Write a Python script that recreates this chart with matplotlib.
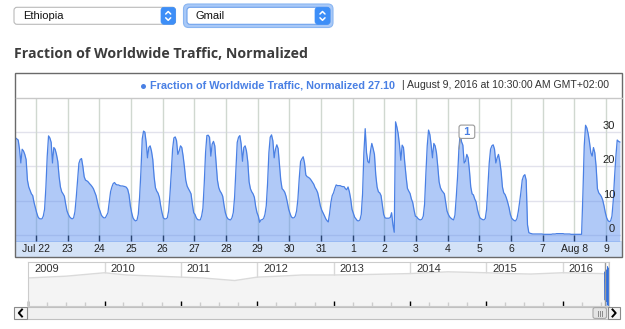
import numpy as np
import pandas as pd
import matplotlib
matplotlib.use('Agg')
import matplotlib.pyplot as plt
import matplotlib.dates as mdates
from matplotlib.patches import Rectangle, FancyBboxPatch

plt.rcParams['font.family'] = ['Liberation Sans', 'DejaVu Sans']

country = 'Ethiopia'
product = 'Gmail'
series_name = 'Fraction of Worldwide Traffic, Normalized'

# hourly samples, GMT+02:00, first sample Jul 21 08:30
jul21 = [28.3, 28.0, 27.7, 25.0, 21.0, 25.0, 24.5, 23.5, 22.0, 16.0, 14.0, 13.0, 12.0, 11.5, 9.5, 8.0]
jul22 = [6.5, 5.3, 4.8, 4.7, 4.7, 5.5, 7.5, 14.0, 23.0, 28.9, 28.3, 27.0, 21.0, 25.5, 25.0, 23.5, 21.5, 17.0, 14.0, 12.6, 12.0, 11.3, 9.0, 7.0]
jul23 = [6.0, 5.3, 4.9, 4.7, 5.0, 6.8, 11.0, 16.0, 20.9, 22.0, 22.3, 20.0, 17.0, 16.0, 15.8, 15.5, 15.0, 14.6, 14.1, 13.5, 12.5, 11.5, 9.7, 8.0]
jul24 = [7.0, 5.8, 5.3, 5.0, 5.0, 5.7, 6.5, 9.5, 12.6, 14.0, 15.0, 15.3, 14.8, 14.6, 14.6, 14.4, 14.3, 14.3, 14.2, 14.1, 13.9, 13.3, 11.7, 8.5]
jul25 = [6.5, 5.0, 4.4, 4.1, 4.3, 6.0, 11.0, 18.4, 28.0, 30.3, 30.0, 27.0, 22.5, 25.5, 26.0, 24.5, 22.0, 17.0, 13.8, 12.8, 12.2, 11.0, 8.5, 6.5]
jul26 = [5.0, 4.7, 4.7, 5.0, 7.0, 11.7, 18.0, 25.0, 28.3, 28.6, 27.5, 23.5, 24.5, 26.0, 25.5, 23.0, 19.8, 16.0, 14.3, 13.5, 12.8, 12.0, 9.0, 6.5]
jul27 = [6.0, 5.0, 4.5, 4.4, 4.4, 5.5, 7.8, 15.0, 24.0, 29.0, 29.1, 28.5, 23.0, 26.5, 27.3, 26.0, 21.0, 16.0, 13.8, 12.8, 12.2, 11.3, 8.7, 6.5]
jul28 = [5.3, 4.7, 4.5, 4.4, 5.0, 6.5, 11.0, 19.0, 27.0, 28.5, 29.0, 26.5, 21.5, 25.5, 26.0, 24.5, 21.4, 15.5, 13.5, 12.6, 12.0, 11.0, 8.3, 6.5]
jul29 = [5.5, 3.7, 4.4, 4.5, 4.8, 6.0, 8.5, 15.0, 24.0, 28.5, 29.2, 27.5, 22.5, 25.0, 26.3, 25.2, 20.5, 16.0, 13.5, 13.1, 12.5, 11.3, 9.5, 7.5]
jul30 = [6.3, 5.3, 5.0, 5.0, 5.5, 7.0, 10.5, 16.5, 21.4, 22.2, 22.8, 21.0, 17.5, 17.0, 16.8, 16.5, 16.0, 15.4, 14.8, 13.8, 13.2, 12.3, 10.5, 8.5]
jul31 = [7.3, 6.5, 5.7, 4.8, 4.2, 3.8, 6.3, 9.5, 11.5, 12.3, 13.6, 14.6, 14.4, 14.4, 14.4, 14.2, 14.1, 14.1, 13.5, 13.2, 14.0, 12.6, 10.5, 7.5]
aug1 = [6.3, 5.2, 4.7, 4.2, 4.1, 4.4, 6.0, 12.0, 24.0, 31.0, 24.0, 21.4, 21.0, 24.5, 26.7, 25.2, 23.5, 17.5, 14.0, 12.6, 12.3, 11.5, 8.7, 6.0]
aug2 = [5.0, 4.9, 4.9, 4.9, 5.1, 6.5, 3.0, 0.8, 33.0, 31.5, 29.5, 26.2, 21.8, 26.2, 25.5, 21.0, 17.0, 13.6, 12.8, 12.1, 10.5, 9.5, 7.3, 5.5]
aug3 = [5.3, 4.8, 4.5, 4.4, 4.6, 5.5, 9.0, 18.0, 26.0, 30.6, 29.3, 26.2, 22.5, 26.7, 26.0, 24.0, 20.0, 15.5, 13.8, 13.0, 12.5, 12.0, 9.5, 7.0]
aug4 = [6.0, 5.3, 4.9, 4.6, 4.4, 5.8, 11.0, 17.0, 25.0, 29.6, 27.2, 26.2, 21.0, 21.5, 23.5, 22.5, 18.8, 14.0, 12.0, 11.7, 10.5, 9.7, 7.5, 6.0]
aug5 = [5.0, 4.7, 4.5, 4.4, 4.8, 7.5, 14.0, 21.0, 25.0, 26.0, 26.3, 25.0, 21.0, 22.5, 23.5, 21.5, 18.5, 14.0, 12.3, 11.8, 10.8, 9.5, 8.0, 6.0]
aug6 = [4.9, 4.5, 4.2, 4.1, 4.8, 6.8, 9.5, 12.5, 16.0, 17.2, 17.6, 16.0, 3.0, 0.7, 0.5, 0.4, 0.3, 0.3, 0.3, 0.3, 0.3, 0.3, 0.3, 0.3]
aug7 = [0.2, 0.2, 0.2, 0.2, 0.2, 0.2, 0.2, 0.3, 0.3, 0.3, 0.4, 0.4, 0.4, 0.4, 0.4, 0.4, 0.3, 0.3, 0.3, 0.3, 0.3, 0.2, 0.2, 0.2]
aug8 = [0.2, 0.2, 0.2, 0.2, 0.2, 0.2, 12.0, 26.0, 32.0, 31.2, 29.5, 27.0, 24.0, 23.0, 25.5, 24.0, 20.0, 13.5, 12.3, 11.8, 11.2, 10.2, 8.5, 6.5]
aug9 = [5.0, 4.2, 3.9, 4.1, 5.5, 10.0, 17.0, 23.0, 27.7, 27.3, 27.1]

traffic = (jul21 + jul22 + jul23 + jul24 + jul25 + jul26 + jul27 + jul28 + jul29
           + jul30 + jul31 + aug1 + aug2 + aug3 + aug4 + aug5 + aug6 + aug7 + aug8 + aug9)
times = pd.date_range('2016-07-21 08:30', periods=len(traffic), freq='h')

day_ticks = pd.date_range('2016-07-22', '2016-08-09', freq='D')
day_labels = ['Jul 22', '23', '24', '25', '26', '27', '28', '29', '30', '31',
              '1', '2', '3', '4', '5', '6', '7', 'Aug 8', '9']
y_ticks = [0, 10, 20, 30]

flag_time = pd.Timestamp('2016-08-04 08:30')
flag_text = '1'

# long range overview (2009 - 2016)
years = list(range(2009, 2017))
overview_dates = pd.to_datetime(['2009-01-01', '2009-07-01', '2010-01-01', '2010-04-15', '2010-08-01',
                                 '2011-01-01', '2011-04-15', '2011-09-15', '2012-01-01', '2012-04-15',
                                 '2012-08-01', '2013-01-01', '2013-07-01', '2014-01-01', '2014-07-01',
                                 '2015-01-01', '2015-04-15', '2015-08-01', '2016-01-01', '2016-07-01',
                                 '2016-07-21'])
overview_vals = [23.5, 25.0, 27.9, 26.0, 25.3, 24.2, 23.5, 21.3, 24.2, 25.0, 26.0, 26.0, 26.5,
                 27.2, 28.7, 27.9, 27.2, 26.8, 27.9, 27.2, 27.0]

W, H = 625, 329


def fig_box(x0, y0, x1, y1):
    return [x0 / W, 1 - y1 / H, (x1 - x0) / W, (y1 - y0) / H]


fig = plt.figure(figsize=(W / 100, H / 100), dpi=100)
fig.patch.set_facecolor('white')

# layer under the charts (axis band)
under = fig.add_axes([0, 0, 1, 1])
under.set_xlim(0, W)
under.set_ylim(H, 0)
under.axis('off')
under.set_zorder(-1)
under.add_patch(Rectangle((15.5, 240.5), 606, 16, fc='#d3e2f7', ec='none'))

# main chart
tx = mdates.date2num(times.to_pydatetime())
ax = fig.add_axes(fig_box(16, 97.7, 621, 240.5))
ax.set_facecolor('white')
for v in y_ticks:
    ax.axhline(v, color='#e2e2ec', lw=1, zorder=0.5)
for d in mdates.date2num(day_ticks.to_pydatetime()):
    ax.axvline(d, color='#d0d8d0', lw=1, zorder=0.5)
ax.fill_between(tx, traffic, -2, color='#5a8ff0', alpha=0.48, lw=0, zorder=2)
ax.plot(tx, traffic, color='#4a80e4', lw=0.9, zorder=3)
ax.set_ylim(-1.6, 40.03)
ax.set_xlim(mdates.date2num(pd.Timestamp('2016-07-21 08:50')),
            mdates.date2num(pd.Timestamp('2016-08-09 11:22')))
ax.set_yticks([])
ax.set_xticks(mdates.date2num(day_ticks.to_pydatetime()))
ax.set_xticklabels(day_labels)
ax.tick_params(axis='x', direction='in', length=4, width=1, color='black',
               pad=2.5, labelsize=7.5, labelcolor='#222222')
for s in ax.spines.values():
    s.set_visible(False)

for v in y_ticks:
    ax.annotate(str(v), xy=(1, v), xycoords=('axes fraction', 'data'), xytext=(-6, 1),
                textcoords='offset pixels', ha='right', va='bottom', fontsize=8, color='#222222')

fv = traffic[times.get_loc(flag_time)]
ax.annotate(' %s ' % flag_text, xy=(mdates.date2num(flag_time), fv), xytext=(8, 17.5),
            textcoords='offset pixels', ha='center', va='center', fontsize=8,
            fontweight='bold', color='#4a80e4', zorder=6,
            bbox=dict(boxstyle='round,pad=0.15,rounding_size=0.2', fc='white', ec='#9a9a9a', lw=0.8),
            arrowprops=dict(arrowstyle='-', color='#9a9a9a', lw=0.8, shrinkA=0, shrinkB=0,
                            relpos=(0, 0)))

# overview navigator
nav = fig.add_axes(fig_box(28.3, 262, 609, 305.7))
nx = mdates.date2num(overview_dates.to_pydatetime())
nav.fill_between(nx, overview_vals, 0, color='#f4f4f4', lw=0)
nav.plot(nx, overview_vals, color='#dadada', lw=1)
nav.fill_between(tx, traffic, 0, color='#a9c5f4', lw=0)
nav.plot(tx, traffic, color='#2f6fe2', lw=0.7)
nav.set_xlim(mdates.date2num(pd.Timestamp('2009-01-01')), tx[-1])
nav.set_ylim(0, 37)
year_x = [mdates.date2num(pd.Timestamp('%d-01-01' % y)) for y in years]
for yx in year_x[1:]:
    nav.axvline(yx, color='#d8d8d8', lw=1, zorder=0.5)
for y, yx in zip(years, year_x):
    nav.annotate(str(y), xy=(yx, 1), xycoords=('data', 'axes fraction'), xytext=(6, -2),
                 textcoords='offset pixels', ha='left', va='top', fontsize=8, color='#333333')
quarters = [mdates.date2num(q) for q in pd.date_range('2009-01-01', '2016-08-01', freq='QS').to_pydatetime()]
nav.set_xticks(year_x)
nav.set_xticks([q for q in quarters if q not in year_x], minor=True)
nav.tick_params(axis='x', which='major', direction='in', length=3.5, width=1, color='black',
                labelbottom=False)
nav.tick_params(axis='x', which='minor', direction='in', length=3, width=1, color='#cccccc')
nav.set_yticks([])
for s in nav.spines.values():
    s.set_color('#cccccc')
    s.set_linewidth(0.8)
nav.axvline(tx[0], color='#9a9a9a', lw=1)
nav.axvline(tx[-1], color='#9a9a9a', lw=1)

# top layer: page chrome, frame and texts
over = fig.add_axes([0, 0, 1, 1])
over.set_xlim(0, W)
over.set_ylim(H, 0)
over.axis('off')
over.set_zorder(10)

# dropdowns
over.add_patch(FancyBboxPatch((14, 7.3), 161.5, 17, boxstyle='round,pad=0,rounding_size=3',
                              fc='white', ec='#b9b9b9', lw=0.8))
over.add_patch(FancyBboxPatch((161, 7.3), 14.5, 17, boxstyle='round,pad=0,rounding_size=3',
                              fc='#3d8ef7', ec='#3d8ef7', lw=0.5))
over.add_patch(FancyBboxPatch((183.5, 4), 149.5, 23.5, boxstyle='round,pad=0,rounding_size=5',
                              fc='#a9c9f7', ec='#8ab6f2', lw=0.8))
over.add_patch(FancyBboxPatch((187, 7.3), 143, 17, boxstyle='round,pad=0,rounding_size=3',
                              fc='white', ec='#6fa2ec', lw=0.8))
over.add_patch(FancyBboxPatch((315, 7.3), 15, 17, boxstyle='round,pad=0,rounding_size=3',
                              fc='#3d8ef7', ec='#3d8ef7', lw=0.5))
for cx in (168.2, 322.5):
    over.plot([cx - 2.5, cx, cx + 2.5], [14, 11.5, 14], color='white', lw=1.1, solid_capstyle='round')
    over.plot([cx - 2.5, cx, cx + 2.5], [17.8, 20.3, 17.8], color='white', lw=1.1, solid_capstyle='round')
over.text(23, 16, country, fontsize=8, color='#111111', va='center', ha='left')
over.text(195, 16, product, fontsize=8, color='#111111', va='center', ha='left')

# chart title
over.text(14, 58.3, series_name, fontsize=10.15, fontweight='bold', color='#3c3c3c',
          family=['Open Sans', 'DejaVu Sans'], va='baseline', ha='left')

# chart frame and legend row
over.add_patch(Rectangle((15, 73), 607, 184, fill=False, ec='#6a6a6a', lw=1.0))
over.plot([15.5, 621.5], [97.5, 97.5], color='#c8c8c8', lw=1)
over.plot([143], [85.5], marker='o', ms=3.6, color='#4a80e4', mec='none')
over.text(150, 88.3, '%s %.2f' % (series_name, traffic[-1]), fontsize=7.85, fontweight='bold',
          color='#4a80e4', va='baseline', ha='left')
t_last = times[-1]
stamp = '| %s %d, %d at %s GMT+02:00' % (t_last.strftime('%B'), t_last.day, t_last.year,
                                          t_last.strftime('%I:%M:%S %p'))
over.text(402, 88.3, stamp, fontsize=7.6, color='#333333', va='baseline', ha='left')

# scrollbar under the navigator
over.add_patch(Rectangle((27, 306.7), 581, 12.6, fc='#f0f0f0', ec='#c0c0c0', lw=0.8))
over.add_patch(Rectangle((14, 306.7), 13, 12.6, fc='#f4f4f4', ec='#8a8a8a', lw=0.8))
over.add_patch(Rectangle((608, 306.7), 12, 12.6, fc='#f4f4f4', ec='#8a8a8a', lw=0.8))
over.plot([22, 18.8, 22], [309.5, 313, 316.5], color='black', lw=1.4)
over.plot([612.5, 615.7, 612.5], [309.5, 313, 316.5], color='black', lw=1.4)
over.add_patch(FancyBboxPatch((593, 307.6), 13.5, 10.8, boxstyle='round,pad=0,rounding_size=2',
                              fc='#e4e4e4', ec='#a8a8a8', lw=0.8))
for gx in (597.8, 599.8, 601.8):
    over.plot([gx, gx], [310.5, 315.5], color='#8a8a8a', lw=0.7)

fig.savefig('out.png', dpi=100, facecolor='white')
